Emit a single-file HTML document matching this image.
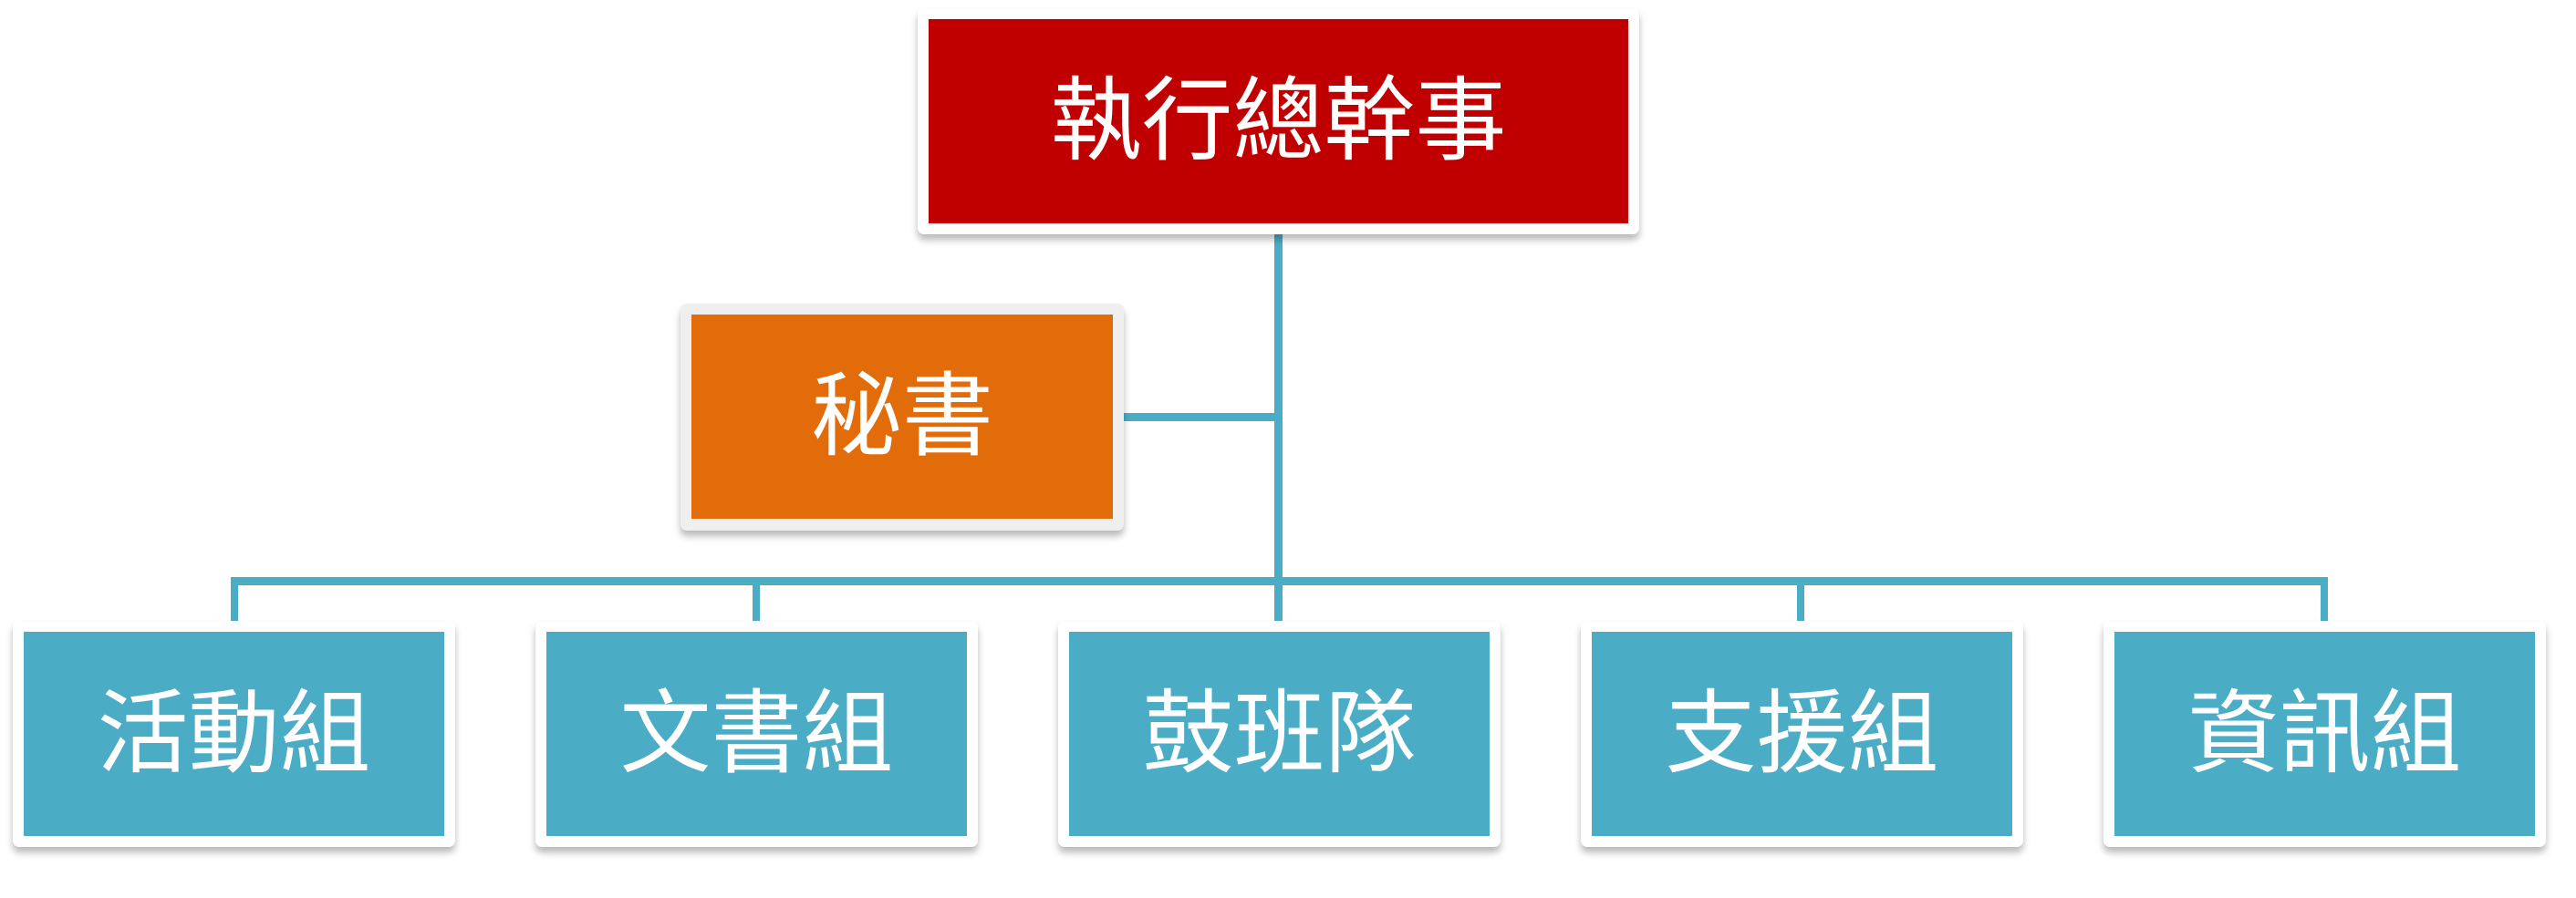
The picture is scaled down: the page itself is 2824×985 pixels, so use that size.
<!DOCTYPE html>
<html><head><meta charset="utf-8"><style>
html,body{margin:0;padding:0;background:#fff;}
body{width:2824px;height:985px;position:relative;overflow:hidden;font-family:"Liberation Sans","Noto Sans CJK TC","Noto Sans CJK SC",sans-serif;}
.f{position:absolute;background:#fff;border-radius:7px;box-shadow:0 6px 8px rgba(0,0,0,0.28);}
.i{position:absolute;display:flex;align-items:center;justify-content:center;color:#fff;font-size:100px;line-height:1;}
.l{position:absolute;background:#4bacc6;}
</style></head><body>
<div class="l" style="left:1397px;top:250px;width:9px;height:432px"></div>
<div class="l" style="left:1230px;top:453px;width:172px;height:9px"></div>
<div class="l" style="left:253px;top:633px;width:2299px;height:9px;border-radius:4px 4px 0 0"></div>
<div class="l" style="left:253px;top:633px;width:8px;height:50px"></div>
<div class="l" style="left:825px;top:633px;width:8px;height:50px"></div>
<div class="l" style="left:1970px;top:633px;width:8px;height:50px"></div>
<div class="l" style="left:2544px;top:633px;width:8px;height:50px"></div>

<div class="f" style="left:1006px;top:9px;width:791px;height:248px"></div>
<div class="i" style="left:1018px;top:21px;width:767px;height:224px;background:#c00000">執行總幹事</div>

<div class="f" style="left:746px;top:333px;width:486px;height:249px;background:#efefef"></div>
<div class="i" style="left:758px;top:345px;width:462px;height:224px;background:#e36c0a">秘書</div>

<div class="f" style="left:14px;top:681px;width:485px;height:248px"></div>
<div class="i" style="left:26px;top:693px;width:461px;height:224px;background:#4bacc6">活動組</div>
<div class="f" style="left:587px;top:681px;width:485px;height:248px"></div>
<div class="i" style="left:599px;top:693px;width:461px;height:224px;background:#4bacc6">文書組</div>
<div class="f" style="left:1160px;top:681px;width:485px;height:248px"></div>
<div class="i" style="left:1172px;top:693px;width:461px;height:224px;background:#4bacc6">鼓班隊</div>
<div class="f" style="left:1733px;top:681px;width:485px;height:248px"></div>
<div class="i" style="left:1745px;top:693px;width:461px;height:224px;background:#4bacc6">支援組</div>
<div class="f" style="left:2306px;top:681px;width:485px;height:248px"></div>
<div class="i" style="left:2318px;top:693px;width:461px;height:224px;background:#4bacc6">資訊組</div>
</body></html>
